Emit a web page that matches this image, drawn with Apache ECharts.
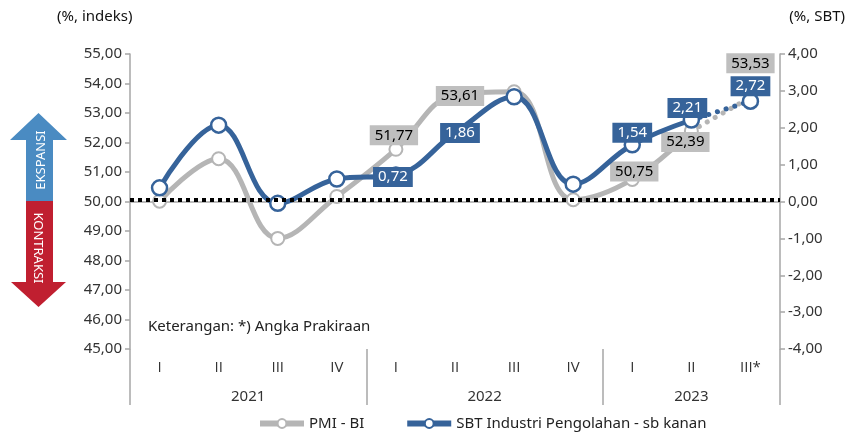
<!DOCTYPE html>
<html>
<head>
<meta charset="utf-8">
<script src="https://cdn.jsdelivr.net/npm/echarts@6/dist/echarts.min.js"></script>
<style>
  html, body { margin: 0; padding: 0; background: #fff; }
  #chart { width: 855px; height: 437px; }
</style>
</head>
<body>
<div id="chart"></div>
<script>
// data
var quarters = ['I', 'II', 'III', 'IV', 'I', 'II', 'III', 'IV', 'I', 'II', 'III*'];
var years = ['2021', '2022', '2023'];
var yearBounds = [0, 4, 8, 11];
var pmi = [50.01, 51.45, 48.75, 50.17, 51.77, 53.61, 53.72, 50.06, 50.75, 52.39, 53.53];
var sbt = [0.37, 2.07, -0.05, 0.61, 0.72, 1.86, 2.84, 0.47, 1.54, 2.21, 2.72];
var threshold = 50.05;

var FONT = 'Noto Sans';
var GRAY = '#b5b5b5';
var BLUE = '#36639a';
var lastIdx = pmi.length - 1;

// where the value boxes sit (offset from the point), style only
var pmiLabelPos = {4: [-2, -14], 5: [5, 1], 8: [2, -8], 9: [-6, 11], 10: [0, -34]};
var sbtLabelPos = {4: [-3, 2], 5: [5, 0], 8: [0, -12], 9: [-4, -12], 10: [0, -15]};

function fmt(v) {
    return v.toFixed(2).replace('.', ',');
}

function boxLabel(pos, dark) {
    return {
        show: true,
        position: 'inside',
        offset: pos,
        formatter: function (p) { return fmt(p.value); },
        fontFamily: FONT,
        fontSize: 15,
        color: dark ? '#fff' : '#000',
        backgroundColor: dark ? BLUE : '#bfbfbf',
        padding: [3, 5, 2, 5]
    };
}

// main part (solid) and forecast part (dotted)
function solidData(values, labelPos, dark) {
    return values.map(function (v, i) {
        if (i === lastIdx) return null;
        var item = {value: v};
        if (labelPos[i]) item.label = boxLabel(labelPos[i], dark);
        return item;
    });
}

function forecastData(values, labelPos, dark) {
    return values.map(function (v, i) {
        if (i < lastIdx - 1) return null;
        var item = {value: v};
        if (i === lastIdx) {
            item.label = boxLabel(labelPos[i], dark);
        } else {
            item.symbol = 'none';
        }
        return item;
    });
}

var chart = echarts.init(document.getElementById('chart'));

var option = {
    animation: false,
    textStyle: {fontFamily: FONT},
    grid: {left: 130, right: 75, top: 54, bottom: 88},
    legend: {
        bottom: 1,
        left: 252,
        itemWidth: 44,
        itemHeight: 11,
        itemGap: 40,
        textStyle: {fontFamily: FONT, fontSize: 15, color: '#222'},
        lineStyle: {width: 6},
        data: ['PMI - BI', 'SBT Industri Pengolahan - sb kanan']
    },
    xAxis: [
        {
            type: 'category',
            data: quarters,
            axisLine: {lineStyle: {color: '#a6a6a6', width: 1.5}},
            axisTick: {interval: 0, length: 27, lineStyle: {color: '#a6a6a6', width: 1.5}},
            axisLabel: {
                interval: 0,
                margin: 11,
                fontFamily: 'Open Sans',
                fontWeight: 'normal',
                fontSize: 15,
                color: '#333'
            }
        },
        {
            type: 'value',
            min: 0,
            max: 11,
            position: 'bottom',
            axisLine: {show: false},
            splitLine: {show: false},
            axisTick: {
                show: true,
                customValues: yearBounds,
                length: 56,
                lineStyle: {color: '#a6a6a6', width: 1.5}
            },
            axisLabel: {
                customValues: [2, 6, 9.5],
                margin: 40,
                fontFamily: FONT,
                fontSize: 15,
                color: '#333',
                formatter: function (v) {
                    for (var i = 0; i < years.length; i++) {
                        if (v > yearBounds[i] && v < yearBounds[i + 1]) return years[i];
                    }
                    return '';
                }
            }
        }
    ],
    yAxis: [
        {
            type: 'value',
            min: 45,
            max: 55,
            interval: 1,
            splitLine: {show: false},
            axisLine: {show: true, lineStyle: {color: '#a6a6a6', width: 1.5}},
            axisTick: {show: true, length: 5, lineStyle: {color: '#a6a6a6', width: 1.5}},
            axisLabel: {margin: 8, fontFamily: FONT, fontSize: 15, color: '#333', formatter: fmt}
        },
        {
            type: 'value',
            min: -4,
            max: 4,
            interval: 1,
            position: 'right',
            splitLine: {show: false},
            axisLine: {show: true, lineStyle: {color: '#a6a6a6', width: 1.5}},
            axisTick: {show: true, length: 5, lineStyle: {color: '#a6a6a6', width: 1.5}},
            axisLabel: {margin: 8, fontFamily: FONT, fontSize: 15, color: '#333', formatter: fmt}
        }
    ],
    series: [
        {
            name: 'PMI - BI',
            type: 'line',
            smooth: 0.4,
            z: 2,
            data: solidData(pmi, pmiLabelPos, false),
            symbol: 'circle',
            symbolSize: 13,
            lineStyle: {color: GRAY, width: 5},
            itemStyle: {color: '#fff', borderColor: GRAY, borderWidth: 2},
            markLine: {
                silent: true,
                symbol: 'none',
                label: {show: false},
                lineStyle: {color: '#000', type: [4, 4], width: 4},
                data: [{yAxis: threshold}]
            }
        },
        {
            name: 'PMI - BI',
            type: 'line',
            z: 2,
            data: forecastData(pmi, pmiLabelPos, false),
            symbol: 'circle',
            symbolSize: 13,
            lineStyle: {color: GRAY, width: 5, type: [0.1, 9], cap: 'round'},
            itemStyle: {color: '#fff', borderColor: GRAY, borderWidth: 2}
        },
        {
            name: 'SBT Industri Pengolahan - sb kanan',
            type: 'line',
            yAxisIndex: 1,
            smooth: 0.4,
            z: 3,
            data: solidData(sbt, sbtLabelPos, true),
            symbol: 'circle',
            symbolSize: 15,
            lineStyle: {color: BLUE, width: 5},
            itemStyle: {color: '#fff', borderColor: BLUE, borderWidth: 2.5}
        },
        {
            name: 'SBT Industri Pengolahan - sb kanan',
            type: 'line',
            yAxisIndex: 1,
            z: 3,
            data: forecastData(sbt, sbtLabelPos, true),
            symbol: 'circle',
            symbolSize: 15,
            lineStyle: {color: BLUE, width: 5, type: [0.1, 9], cap: 'round'},
            itemStyle: {color: '#fff', borderColor: BLUE, borderWidth: 2.5}
        }
    ],
    graphic: [
        {type: 'text', left: 57, top: 9, style: {text: '(%, indeks)', font: '15px ' + FONT, fill: '#111'}},
        {type: 'text', right: 10, top: 9, style: {text: '(%, SBT)', font: '15px ' + FONT, fill: '#111'}},
        {type: 'text', left: 148, top: 319, style: {text: 'Keterangan: *) Angka Prakiraan', font: '15px ' + FONT, fill: '#222'}},
        {
            type: 'polygon',
            shape: {points: [[26, 201], [26, 140], [10, 140], [38.5, 113], [67, 140], [53, 140], [53, 201]]},
            style: {fill: '#4a8bc2'}
        },
        {
            type: 'polygon',
            shape: {points: [[26, 201], [26, 282], [11, 282], [38.5, 307], [66, 282], [53, 282], [53, 201]]},
            style: {fill: '#c01f30'}
        },
        {
            type: 'text',
            x: 41, y: 160,
            rotation: Math.PI / 2,
            style: {text: 'EKSPANSI', font: '13px ' + FONT, fill: '#fff', align: 'center', verticalAlign: 'middle'}
        },
        {
            type: 'text',
            x: 38, y: 248,
            rotation: -Math.PI / 2,
            style: {text: 'KONTRAKSI', font: '13px ' + FONT, fill: '#fff', align: 'center', verticalAlign: 'middle'}
        }
    ]
};

chart.setOption(option);
</script>
</body>
</html>
